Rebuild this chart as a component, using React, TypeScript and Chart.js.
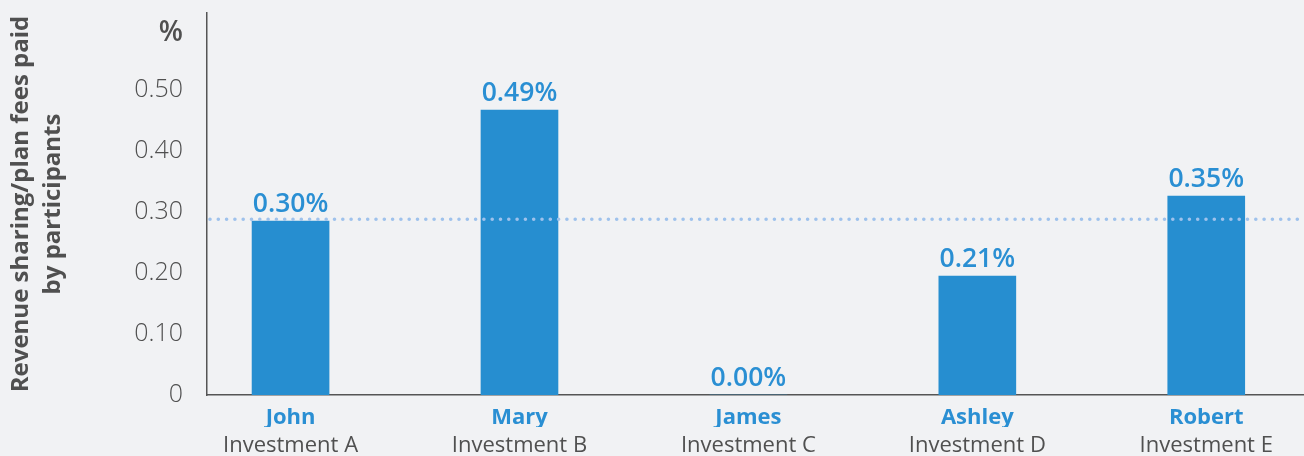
import React, { useEffect, useRef } from "react";
import { Chart, registerables } from "chart.js";

Chart.register(...registerables);

const names = ["John", "Mary", "James", "Ashley", "Robert"];
const investments = ["Investment A", "Investment B", "Investment C", "Investment D", "Investment E"];
const positions = [0, 1, 2, 3, 4];
const barValues = [0.285, 0.467, 0, 0.195, 0.326];
const valueLabels = ["0.30%", "0.49%", "0.00%", "0.21%", "0.35%"];
const yTicks = [0, 0.1, 0.2, 0.3, 0.4, 0.5, 0.6];
const averageValue = 0.288;
const xMin = -0.365;
const xMax = 4.427;

const BLUE = "#268ed0";
const LABEL_BLUE = "#2a8fd3";
const GRAY = "#505050";
const FONT = "'Open Sans', 'DejaVu Sans', sans-serif";

const avgLinePlugin = {
  id: "avgLine",
  afterDatasetsDraw(chart: any) {
    const { ctx, chartArea, scales } = chart;
    const y = scales.y.getPixelForValue(averageValue);
    ctx.save();
    ctx.strokeStyle = "#9fc2ec";
    ctx.lineWidth = 3.6;
    ctx.lineCap = "round";
    ctx.setLineDash([0, 8.3]);
    ctx.beginPath();
    ctx.moveTo(chartArea.left + 3, y);
    ctx.lineTo(chartArea.right, y);
    ctx.stroke();
    ctx.restore();
  },
};

const valueLabelPlugin = {
  id: "valueLabels",
  afterDatasetsDraw(chart: any) {
    const { ctx } = chart;
    const meta = chart.getDatasetMeta(0);
    ctx.save();
    ctx.fillStyle = LABEL_BLUE;
    ctx.font = `600 26.5px ${FONT}`;
    ctx.textAlign = "center";
    ctx.textBaseline = "alphabetic";
    meta.data.forEach((bar: any, i: number) => {
      ctx.fillText(valueLabels[i], bar.x, bar.y - 9);
    });
    ctx.restore();
  },
};

const zeroPad = (s: any) => {
  s.paddingTop = 0;
  s.paddingBottom = 0;
  s.paddingLeft = 0;
  s.paddingRight = 0;
};

export default function App() {
  const ref = useRef<HTMLCanvasElement>(null);
  useEffect(() => {
    if (!ref.current) return;
    const chart = new Chart(ref.current, {
      type: "bar",
      data: {
        datasets: [
          {
            data: positions.map((p, i) => ({ x: p, y: barValues[i] })),
            backgroundColor: BLUE,
            barThickness: 77,
            borderWidth: 0,
          },
        ],
      },
      options: {
        animation: false,
        responsive: false,
        layout: { padding: { top: 13, left: 0, right: 0, bottom: 0 } },
        plugins: { legend: { display: false }, tooltip: { enabled: false } },
        scales: {
          x: {
            type: "linear",
            position: "bottom",
            weight: 0,
            offset: false,
            min: xMin,
            max: xMax,
            grid: { display: false, drawTicks: false, offset: false },
            border: { display: true, color: "#555", width: 1.5 },
            afterBuildTicks: (s: any) => {
              s.ticks = positions.map((v) => ({ value: v }));
            },
            afterFit: (s: any) => {
              s.height = 32;
              zeroPad(s);
            },
            ticks: {
              autoSkip: false,
              maxRotation: 0,
              padding: 10,
              color: LABEL_BLUE,
              font: { family: FONT, size: 22, weight: "bold" },
              callback: (v: any) => names[positions.indexOf(v)] ?? "",
            },
          },
          x2: {
            type: "linear",
            position: "bottom",
            weight: 1,
            offset: false,
            min: xMin,
            max: xMax,
            grid: { display: false, drawTicks: false, offset: false },
            border: { display: false },
            afterBuildTicks: (s: any) => {
              s.ticks = positions.map((v) => ({ value: v }));
            },
            afterFit: (s: any) => {
              s.height = 29;
              zeroPad(s);
            },
            ticks: {
              autoSkip: false,
              maxRotation: 0,
              padding: 6,
              color: GRAY,
              font: { family: FONT, size: 22, weight: "normal" },
              callback: (v: any) => investments[positions.indexOf(v)] ?? "",
            },
          },
          y: {
            min: 0,
            max: 0.626,
            grid: { display: false, drawTicks: false },
            border: { display: true, color: "#555", width: 1.5 },
            afterBuildTicks: (s: any) => {
              s.ticks = yTicks.map((v) => ({ value: v }));
            },
            afterFit: (s: any) => {
              s.width = 207;
              zeroPad(s);
            },
            ticks: {
              padding: 24,
              color: GRAY,
              font: (c: any) =>
                c.tick && c.tick.value === 0.6
                  ? { family: FONT, size: 28, weight: 600, lineHeight: 0.3 }
                  : { family: FONT, size: 25, weight: 300 },
              callback: (v: any) =>
                v === 0.6 ? ["", "%"] : v === 0 ? "0" : Number(v).toFixed(2),
            },
            title: {
              display: true,
              text: ["Revenue sharing/plan fees paid", "by participants"],
              color: GRAY,
              font: { family: FONT, size: 24, weight: "bold", lineHeight: 1.3 },
              padding: { top: 6, bottom: 0 },
            },
          },
        },
      },
      plugins: [avgLinePlugin, valueLabelPlugin],
    });
    return () => chart.destroy();
  }, []);

  return (
    <div
      style={{
        position: "fixed",
        left: 0,
        top: 0,
        width: 1304,
        height: 456,
        background: "#f1f2f4",
      }}
    >
      <canvas ref={ref} width={1304} height={456} style={{ width: 1304, height: 456 }} />
    </div>
  );
}
